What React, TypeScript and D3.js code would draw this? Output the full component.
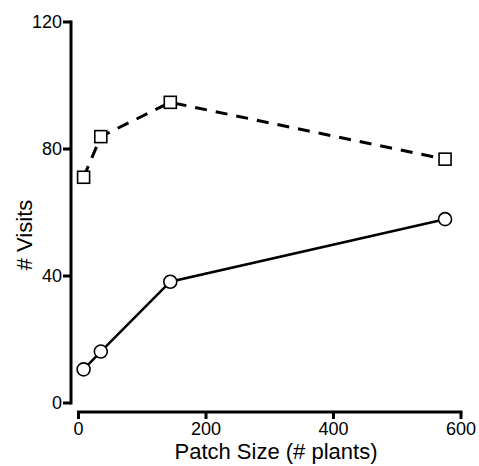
import React from "react";
import * as d3 from "d3";

const patchSizes = [8, 35, 144, 575];
const visitsCircle = [10.6, 16.2, 38.2, 57.9];
const visitsSquare = [71.1, 83.9, 94.7, 76.8];
const xTicks = [0, 200, 400, 600];
const yTicks = [0, 40, 80, 120];
const xLabel = "Patch Size (# plants)";
const yLabel = "# Visits";

const W = 479;
const H = 466;

export default function App() {
  const x = d3.scaleLinear().domain([0, 600]).range([78.5, 461]);
  const y = d3.scaleLinear().domain([0, 120]).range([403, 22]);
  const yAxisX = 71;
  const xAxisY = 412;
  const font = "'Liberation Sans', Arial, sans-serif";

  const line = d3
    .line<[number, number]>()
    .x((d) => x(d[0]))
    .y((d) => y(d[1]));
  const circPts = patchSizes.map((p, i) => [p, visitsCircle[i]] as [number, number]);
  const sqPts = patchSizes.map((p, i) => [p, visitsSquare[i]] as [number, number]);
  const s = 12;

  return (
    <svg
      width={W}
      height={H}
      style={{ position: "absolute", left: 0, top: 0, background: "#fff" }}
      fontFamily={font}
    >
      {/* y axis */}
      <line x1={yAxisX} x2={yAxisX} y1={y(120) - 1.5} y2={y(0) + 1.5} stroke="#000" strokeWidth={3} />
      {yTicks.map((t) => (
        <g key={"y" + t}>
          <line x1={yAxisX - 8} x2={yAxisX} y1={y(t)} y2={y(t)} stroke="#000" strokeWidth={3} />
          <text x={yAxisX - 9} y={y(t)} dy="0.36em" textAnchor="end" fontSize={18}>
            {t}
          </text>
        </g>
      ))}
      {/* x axis */}
      <line x1={x(0) - 1.5} x2={x(600) + 1.5} y1={xAxisY} y2={xAxisY} stroke="#000" strokeWidth={3} />
      {xTicks.map((t) => (
        <g key={"x" + t}>
          <line x1={x(t)} x2={x(t)} y1={xAxisY} y2={xAxisY + 7} stroke="#000" strokeWidth={3} />
          <text x={x(t)} y={xAxisY + 23} textAnchor="middle" fontSize={18}>
            {t}
          </text>
        </g>
      ))}
      <text x={276} y={459} textAnchor="middle" fontSize={22}>
        {xLabel}
      </text>
      <text transform={`translate(32,235) rotate(-90)`} textAnchor="middle" fontSize={22}>
        {yLabel}
      </text>

      {/* series */}
      <path d={line(sqPts) || ""} fill="none" stroke="#000" strokeWidth={3} strokeDasharray="12,9" />
      <path d={line(circPts) || ""} fill="none" stroke="#000" strokeWidth={2.5} />
      {sqPts.map((d, i) => (
        <rect
          key={"s" + i}
          x={x(d[0]) - s / 2}
          y={y(d[1]) - s / 2}
          width={s}
          height={s}
          fill="#fff"
          stroke="#000"
          strokeWidth={1.6}
        />
      ))}
      {circPts.map((d, i) => (
        <circle key={"c" + i} cx={x(d[0])} cy={y(d[1])} r={6.5} fill="#fff" stroke="#000" strokeWidth={1.6} />
      ))}
    </svg>
  );
}
